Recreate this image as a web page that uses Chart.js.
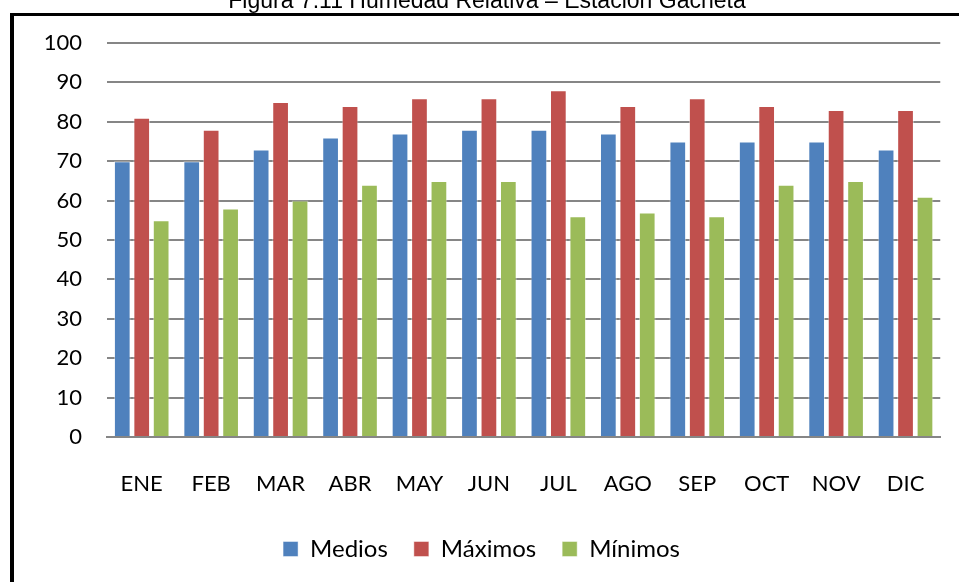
<!DOCTYPE html>
<html>
<head>
<meta charset="utf-8">
<script src="https://cdn.jsdelivr.net/npm/chart.js@4"></script>
<style>
  html, body { margin: 0; padding: 0; background: #fff; }
  #wrap { width: 959px; height: 582px; }
</style>
</head>
<body>
<div id="wrap"><canvas id="chart" width="959" height="582"></canvas></div>
<script>
const months = ['ENE', 'FEB', 'MAR', 'ABR', 'MAY', 'JUN', 'JUL', 'AGO', 'SEP', 'OCT', 'NOV', 'DIC'];
const medios = [70, 70, 73, 76, 77, 78, 78, 77, 75, 75, 75, 73];
const maximos = [81, 78, 85, 84, 86, 86, 88, 84, 86, 84, 83, 83];
const minimos = [55, 58, 60, 64, 65, 65, 56, 57, 56, 64, 65, 61];
const yTicks = [0, 10, 20, 30, 40, 50, 60, 70, 80, 90, 100];
const chartTitle = 'Figura 7.11 Humedad Relativa – Estación Gachetá';

// white page, clipped title and the black frame (only top and left show)
const framePlugin = {
    id: 'frame',
    beforeDraw(chart) {
        const c = chart.ctx;
        c.save();
        c.fillStyle = '#fff';
        c.fillRect(0, 0, chart.width, chart.height);
        c.fillStyle = '#000';
        c.font = '23px "Liberation Sans", Arial, sans-serif';
        c.textAlign = 'center';
        c.textBaseline = 'alphabetic';
        c.fillText(chartTitle, 487, 8);
        c.fillRect(10, 13, chart.width - 10, 3);
        c.fillRect(10, 13, 4, chart.height - 13);
        c.restore();
    }
};

const barBorder = 'rgba(255,255,255,0.45)';

new Chart(document.getElementById('chart'), {
    type: 'bar',
    data: {
        labels: months,
        datasets: [{
            label: 'Medios',
            data: medios,
            backgroundColor: '#4F81BD',
            borderColor: barBorder,
            borderWidth: 1
        }, {
            label: 'Máximos',
            data: maximos,
            backgroundColor: '#C0504D',
            borderColor: barBorder,
            borderWidth: 1
        }, {
            label: 'Mínimos',
            data: minimos,
            backgroundColor: '#9BBB59',
            borderColor: barBorder,
            borderWidth: 1
        }]
    },
    options: {
        responsive: false,
        animation: false,
        layout: { padding: { top: 43, right: 16, left: 20, bottom: 11 } },
        datasets: {
            bar: { categoryPercentage: 0.84, barPercentage: 0.86 }
        },
        scales: {
            y: {
                min: 0,
                max: 100,
                afterBuildTicks(scale) {
                    scale.ticks = yTicks.map(v => ({ value: v }));
                },
                afterFit(scale) { scale.width = 87; },
                border: { display: false },
                grid: { color: '#868686', lineWidth: 2, drawTicks: false },
                ticks: {
                    color: '#000',
                    padding: 25,
                    font: { family: 'Lato', size: 22 }
                }
            },
            x: {
                afterFit(scale) { scale.height = 74; },
                border: { display: true, color: '#868686', width: 2 },
                grid: { display: false, drawTicks: false },
                ticks: {
                    color: '#000',
                    padding: 34,
                    font: { family: 'Lato', size: 22 }
                }
            }
        },
        plugins: {
            legend: {
                position: 'bottom',
                labels: {
                    color: '#000',
                    boxWidth: 15,
                    boxHeight: 15,
                    padding: 26,
                    font: { family: 'Lato', size: 24 }
                }
            },
            tooltip: { enabled: false }
        }
    },
    plugins: [framePlugin]
});
</script>
</body>
</html>
